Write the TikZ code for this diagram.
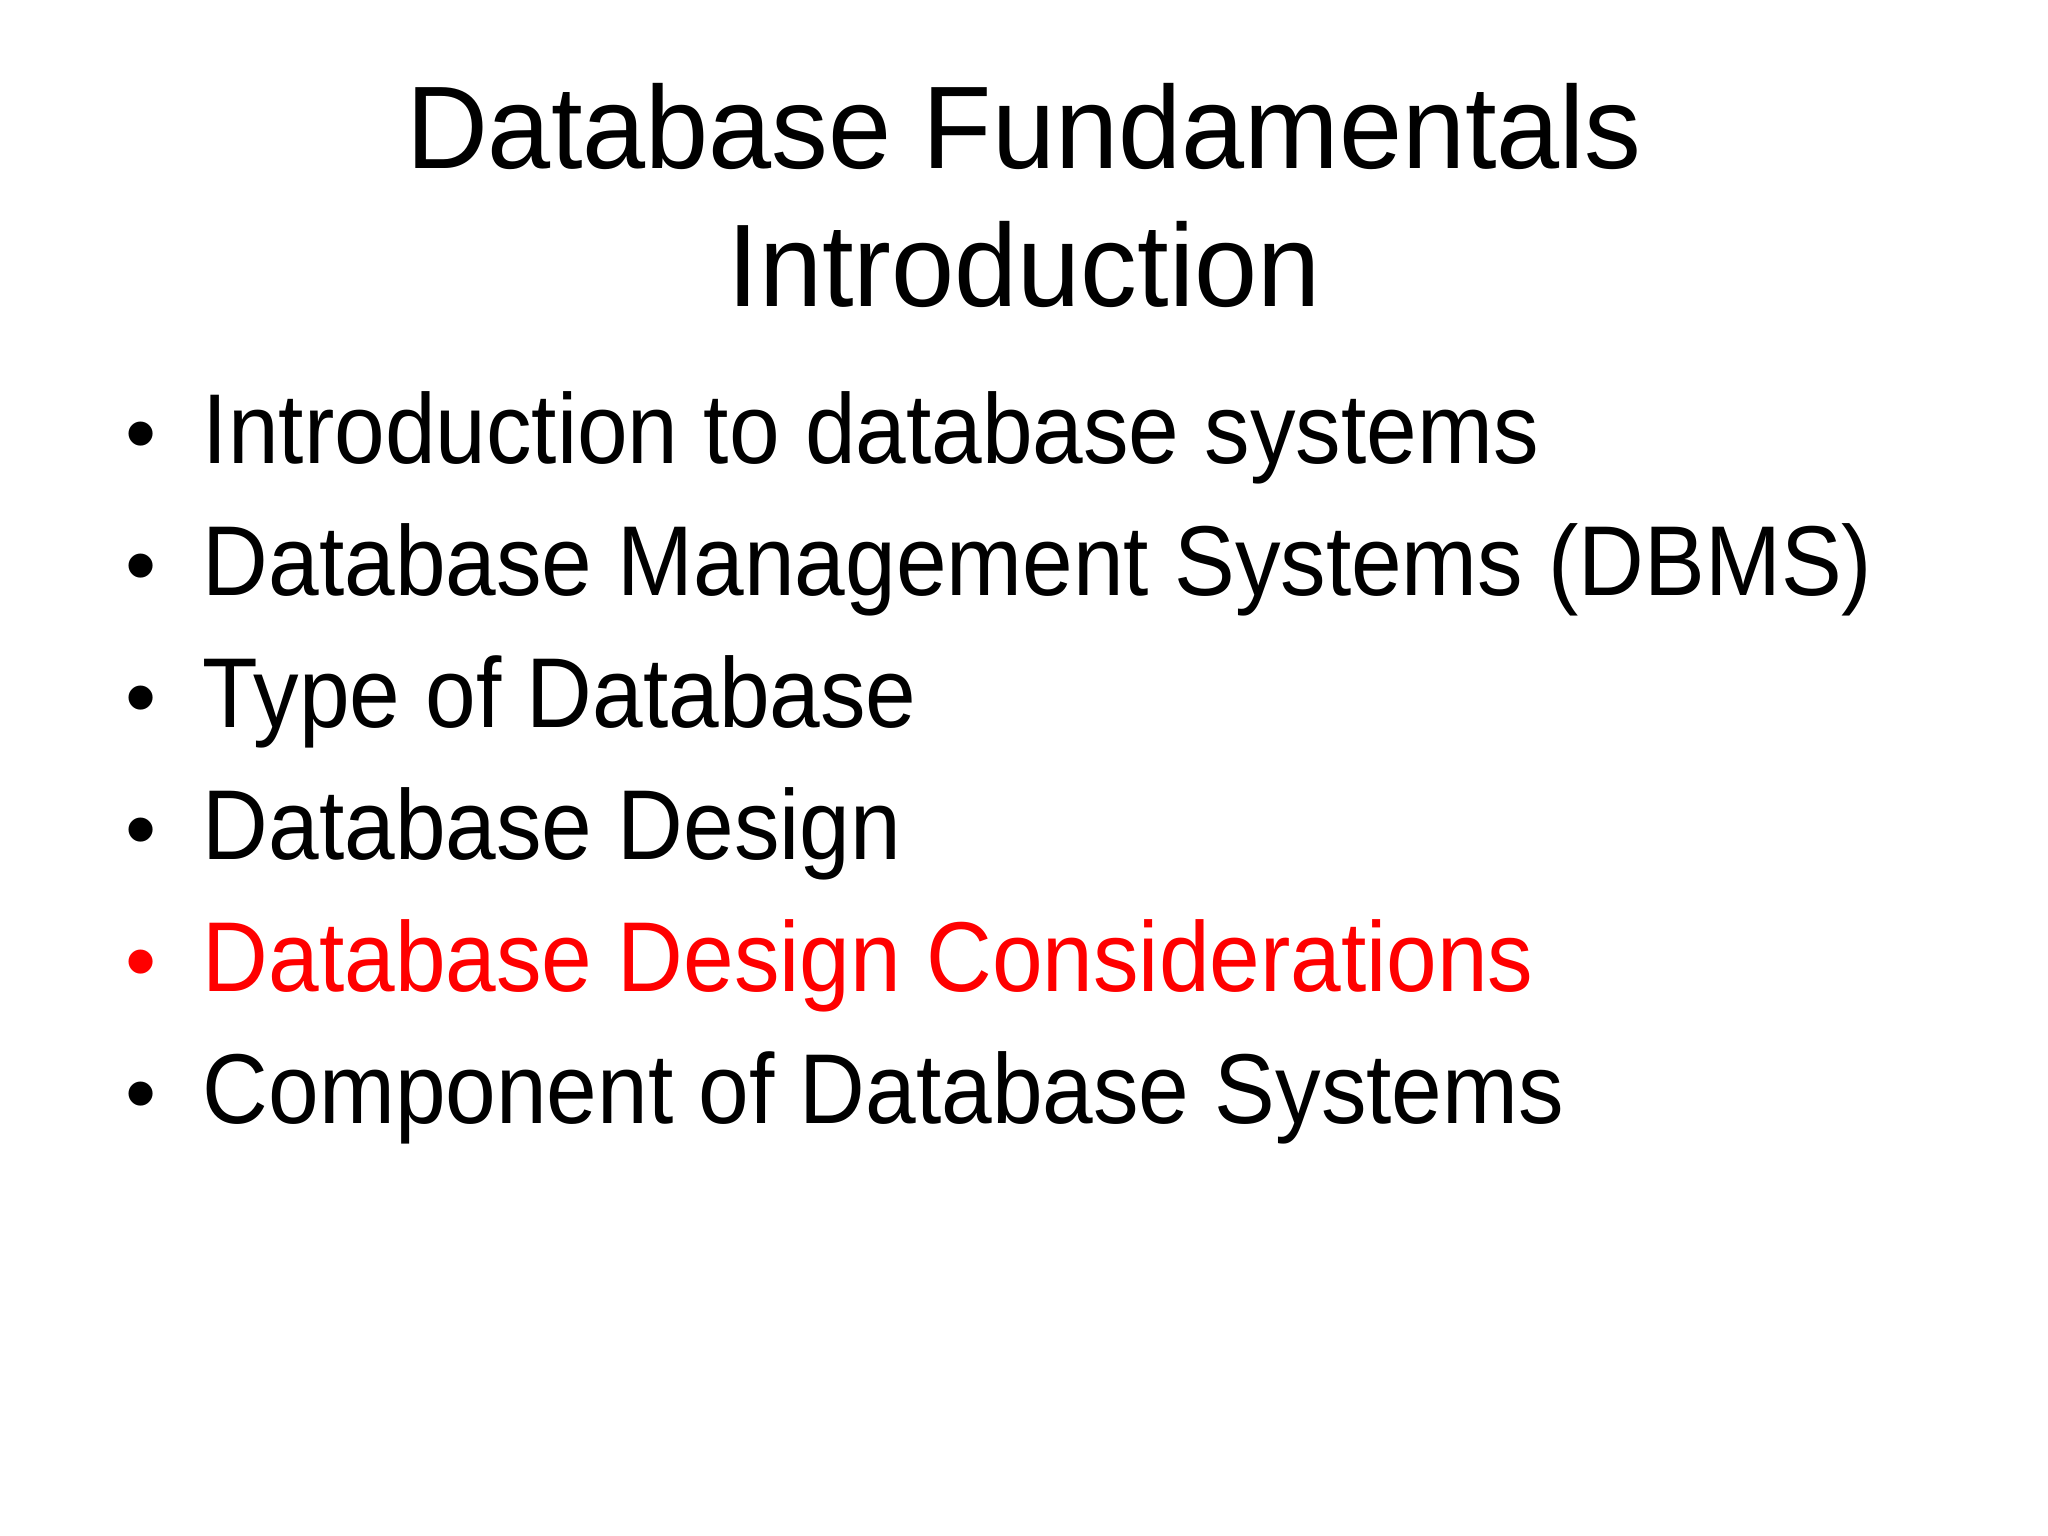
\documentclass[tikz,border=0pt]{standalone}
\usepackage{fontspec}
\usepackage{graphicx}
\setmainfont{Liberation Sans}
\begin{document}
\begin{tikzpicture}[x=0.5pt,y=-0.5pt,
  title/.style={inner sep=0pt,anchor=base,font=\fontsize{45}{54}\selectfont},
  item/.style={inner sep=0pt,anchor=base west,font=\fontsize{38}{46}\selectfont},
  dot/.style={inner sep=0pt,anchor=base,font=\fontsize{34}{40}\selectfont}]
\useasboundingbox (0,0) rectangle (1568,1176);
\fill[white] (0,0) rectangle (1568,1176);
\node[title] (t1) at (784,129) {\scalebox{0.965}[1]{Database Fundamentals}};
\node[title] (t2) at (784,235) {\scalebox{0.965}[1]{Introduction}};
\foreach \y/\t/\c [count=\i] in {355/Introduction to database systems/black,
  456/Database Management Systems (DBMS)/black,
  557/Type of Database/black,
  658/Database Design/black,
  759/Database Design Considerations/red,
  860/Component of Database Systems/black}{
  \node[dot,text=\c] (b\i) at (108,\y) {•};
  \node[item,text=\c] (i\i) at (155,\y) {\scalebox{0.917}[1]{\t}};
}
\end{tikzpicture}
\end{document}
